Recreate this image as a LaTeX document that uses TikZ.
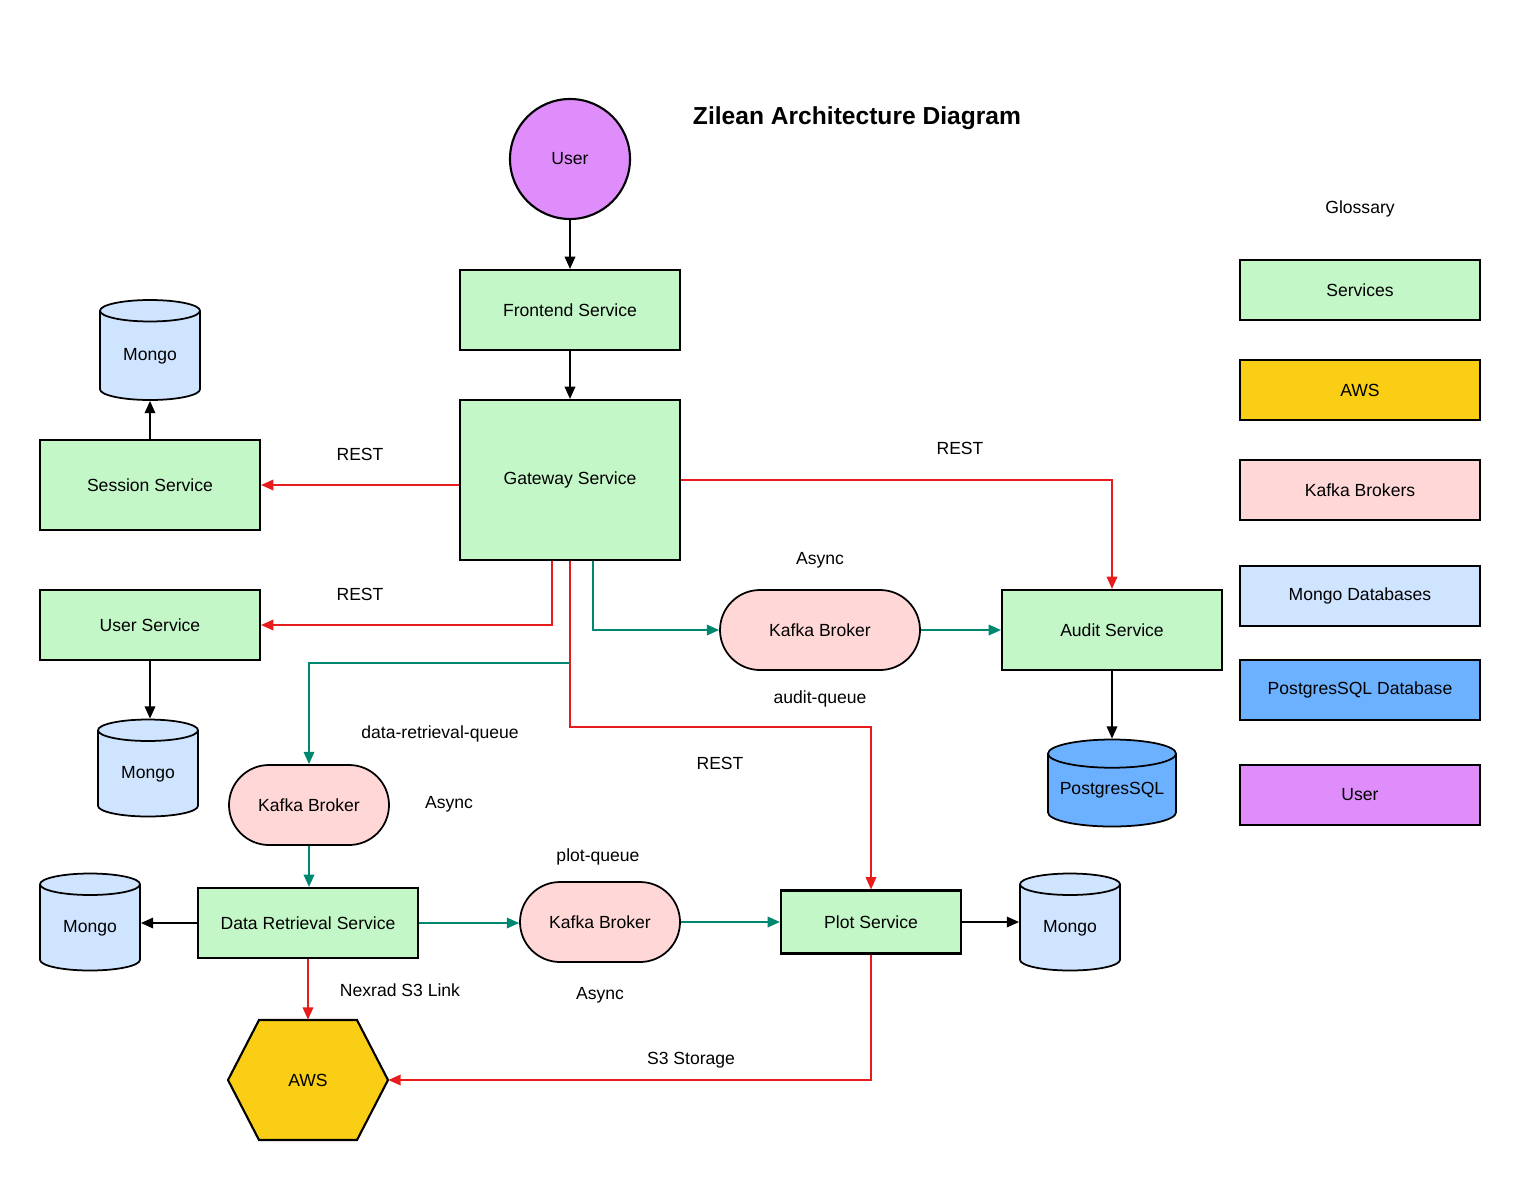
\documentclass[tikz,border=0pt]{standalone}
\usepackage{fontspec}
\setmainfont{Liberation Sans}
\usetikzlibrary{arrows.meta,shapes.geometric}

\newlength\px
\setlength\px{0.02cm}

\definecolor{srvgreen}{HTML}{C3F7C8}
\definecolor{awsyellow}{HTML}{FACE14}
\definecolor{kafkapink}{HTML}{FFD7D7}
\definecolor{mongoblue}{HTML}{CFE4FF}
\definecolor{pgblue}{HTML}{6BB1FF}
\definecolor{userpurple}{HTML}{E08DFC}
\definecolor{restred}{HTML}{E81C1C}
\definecolor{asyncteal}{HTML}{00876F}

\tikzset{
  txt/.style={font=\fontsize{10}{12}\selectfont},
  box/.style={txt, draw=black, line width=1.2pt, inner sep=0pt, align=center},
  service/.style={box, fill=srvgreen},
  broker/.style={box, line width=1pt, fill=kafkapink, rounded corners=40\px},
  db/.style={txt, cylinder, shape border rotate=90, aspect=0.4, anchor=shape center,
    draw=black, line width=1pt, fill=#1, inner sep=0pt},
  glossbox/.style={box, minimum width=240\px, minimum height=60\px, fill=#1},
  link/.style={line width=1pt, -{Triangle[length=7pt,width=6pt]}},
  plain/.style={link, draw=black},
  rest/.style={link, draw=restred},
  async/.style={link, draw=asyncteal},
  lbl/.style={txt}
}

\begin{document}
\begin{tikzpicture}[x=\px, y=-\px]
\path[use as bounding box] (0,0) rectangle (1520,1180);

% ===== Title =====
\node[font=\fontsize{14}{16}\selectfont\bfseries] (title) at (857,118) {Zilean Architecture Diagram};

% ===== Services & stores =====
\node[box, circle, fill=userpurple, minimum size=120\px] (user) at (570,159) {User};
\node[service, minimum width=220\px, minimum height=80\px] (front) at (570,310) {Frontend Service};
\node[service, minimum width=220\px, minimum height=160\px] (gw) at (570,480) {Gateway Service};

\node[service, minimum width=220\px, minimum height=90\px] (session) at (150,485) {Session Service};
\node[db=mongoblue, minimum width=100\px, minimum height=100\px] (mongoA) at (150,350) {Mongo};
\node[service, minimum width=220\px, minimum height=70\px] (usersrv) at (150,625) {User Service};
\node[db=mongoblue, minimum width=100\px, minimum height=97\px] (mongoB) at (148,768) {Mongo};

\node[broker, minimum width=200\px, minimum height=80\px] (kafkaA) at (820,630) {Kafka Broker};
\node[service, minimum width=220\px, minimum height=80\px] (audit) at (1112,630) {Audit Service};
\node[db=pgblue, aspect=0.27, minimum width=128\px, minimum height=87\px] (pg) at (1112,783) {PostgresSQL};

\node[broker, minimum width=160\px, minimum height=80\px] (kafkaB) at (309,805) {Kafka Broker};
\node[service, minimum width=220\px, minimum height=70\px] (dataret) at (308,923) {Data Retrieval Service};
\node[db=mongoblue, minimum width=100\px, minimum height=97\px] (mongoC) at (90,922) {Mongo};
\node[broker, minimum width=160\px, minimum height=80\px] (kafkaC) at (600,922) {Kafka Broker};
\node[service, minimum width=180\px, minimum height=63\px] (plot) at (871,922) {Plot Service};
\node[db=mongoblue, minimum width=100\px, minimum height=97\px] (mongoD) at (1070,922) {Mongo};

% AWS hexagon
\draw[line width=1.2pt, fill=awsyellow] (228,1080) -- (259,1020) -- (357,1020) -- (388,1080)
  -- (357,1140) -- (259,1140) -- cycle;
\node[txt, inner sep=0pt, minimum width=160\px, minimum height=120\px] (aws) at (308,1080) {AWS};

% ===== Connectors =====
\draw[plain] (user.south) -- (front.north);
\draw[plain] (front.south) -- (gw.north);
\draw[plain] (session.north) -- (mongoA.south);
\draw[plain] (usersrv.south) -- (usersrv.south |- mongoB.north);
\draw[plain] (audit.south) -- (pg.north);
\draw[plain] (dataret.west) -- (dataret.west -| mongoC.east);
\draw[plain] (plot.east) -- (plot.east -| mongoD.west);

\draw[rest] (gw.west |- session.east) -- (session.east);
\draw[rest] (gw.east) -| (audit.north);
\draw[rest] ([xshift=-18\px]gw.south) |- (usersrv.east);
\draw[rest] (gw.south) -- ++(0,166) -| (plot.north);
\draw[rest] (dataret.south) -- (aws.north);
\draw[rest] (plot.south) |- (aws.east);

\coordinate (tap) at (570,663);
\draw[async] ([xshift=23\px]gw.south) |- (kafkaA.west);
\draw[async] (kafkaA.east) -- (audit.west);
\draw[async] (tap) -| (kafkaB.north);
\draw[async] (kafkaB.south) -- (kafkaB.south |- dataret.north);
\draw[async] (dataret.east) -- (dataret.east -| kafkaC.west);
\draw[async] (kafkaC.east) -- (plot.west);

% ===== Labels =====
\node[lbl] (lrestA) at (360,454) {REST};
\node[lbl] (lrestB) at (960,448) {REST};
\node[lbl] (lrestC) at (360,594) {REST};
\node[lbl] (lrestD) at (720,763) {REST};
\node[lbl] (lasyncA) at (820,560) {Async};
\node[lbl] (lqueueA) at (820,699) {audit-queue};
\node[lbl] (lqueueB) at (440,734) {data-retrieval-queue};
\node[lbl] (lasyncB) at (449,804) {Async};
\node[lbl] (lqueueC) at (598,857) {plot-queue};
\node[lbl] (lasyncC) at (600,995) {Async};
\node[lbl] (lnexrad) at (400,990) {Nexrad S3 Link};
\node[lbl] (ls3) at (691,1060) {S3 Storage};

% ===== Glossary =====
\node[lbl] (gloss) at (1360,209) {Glossary};
\node[glossbox=srvgreen] (gsrv) at (1360,290) {Services};
\node[glossbox=awsyellow] (gaws) at (1360,390) {AWS};
\node[glossbox=kafkapink] (gkafka) at (1360,490) {Kafka Brokers};
\node[glossbox=mongoblue] (gmongo) at (1360,596) {Mongo Databases};
\node[glossbox=pgblue] (gpg) at (1360,690) {PostgresSQL Database};
\node[glossbox=userpurple] (guser) at (1360,795) {User};

\end{tikzpicture}
\end{document}
